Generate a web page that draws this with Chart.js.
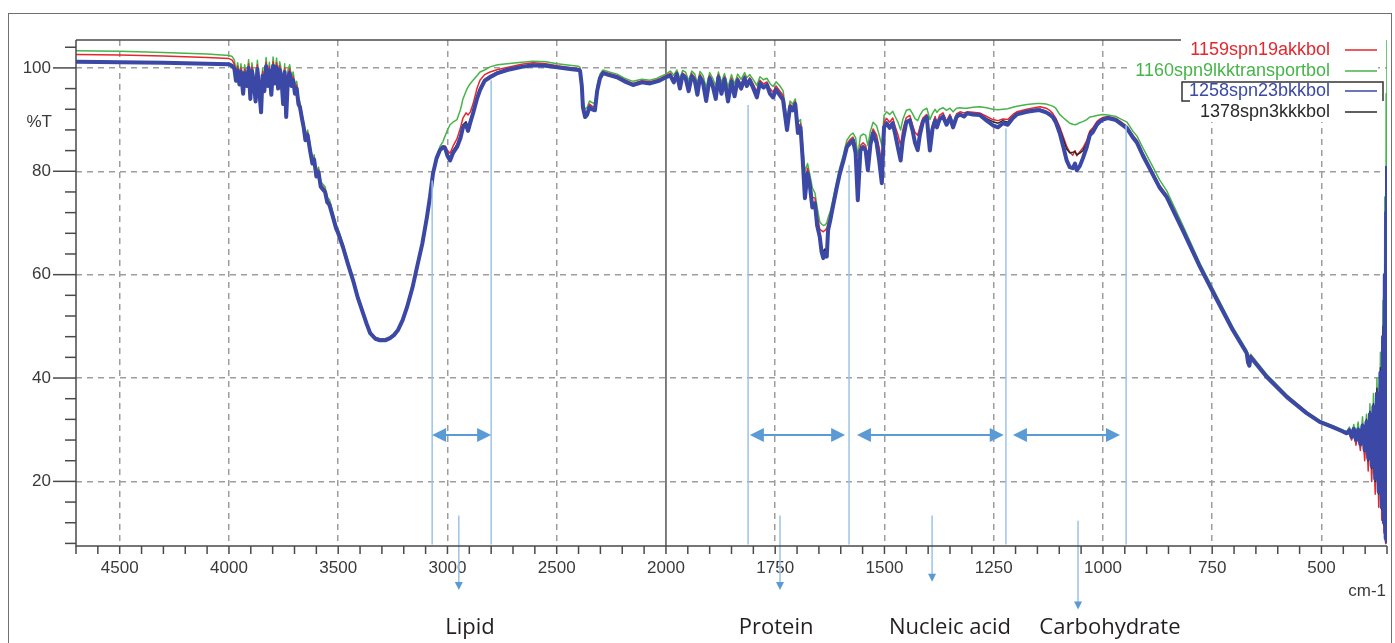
<!DOCTYPE html>
<html>
<head>
<meta charset="utf-8">
<title>FTIR spectra</title>
<script src="https://cdn.jsdelivr.net/npm/chart.js@4.4.0/dist/chart.umd.min.js"></script>
<style>
  html, body { margin: 0; padding: 0; background: #fff; }
  #wrap { position: relative; width: 1395px; height: 643px; }
</style>
</head>
<body>
<div id="wrap"><canvas id="spectrum" width="1395" height="643"></canvas></div>
<script>
// wavenumbers (cm-1), shared by all four spectra
const wavenumbers = [
  // flat + water vapour
  4700, 4500, 4300, 4100, 4000, 3985, 3975, 3968, 3960, 3952,
  3945, 3935, 3928, 3918, 3910, 3902, 3895, 3886, 3878, 3870,
  3862, 3853, 3846, 3838, 3830, 3822, 3815, 3806, 3798, 3790,
  3782, 3775, 3768, 3760, 3752, 3745, 3738, 3730, 3722, 3714,
  3706, 3698, 3690, 3682,
  // O-H band
  3675, 3665, 3658, 3650, 3640, 3629, 3618, 3610, 3600, 3590,
  3580, 3570, 3560, 3550, 3540, 3524, 3510, 3500, 3478, 3455,
  3432, 3410, 3386, 3370, 3354, 3330, 3309, 3285, 3263, 3245,
  3226, 3205, 3185, 3160, 3139, 3115, 3094, 3080, 3066, 3050,
  // lipid + CO2
  3034, 3020, 3011, 3000, 2988, 2975, 2956, 2940, 2929, 2915,
  2906, 2895, 2883, 2865, 2851, 2830, 2805, 2770, 2727, 2660,
  2608, 2550, 2498, 2440, 2400, 2393, 2385, 2380, 2370, 2361,
  2350, 2338, 2325, 2315, 2302, 2288, 2260, 2224, 2190, 2151,
  2110, 2073, 2040, 2027, 2000,
  // water vapour + amide
  1990, 1982, 1975, 1968, 1962, 1955, 1948, 1941, 1934, 1928,
  1922, 1915, 1908, 1900, 1893, 1886, 1880, 1873, 1866, 1858,
  1850, 1843, 1836, 1828, 1820, 1815, 1808, 1800, 1792, 1785,
  1777, 1769, 1762, 1755, 1748, 1740, 1732, 1723, 1716, 1710,
  1704, 1698, 1692, 1687, 1682, 1676, 1671, 1665, 1659, 1654,
  1648, 1644, 1640, 1636, 1632, 1629, 1624, 1618, 1610, 1602,
  // amide II + nucleic acid
  1594, 1586, 1578, 1572, 1566, 1561, 1555, 1549, 1543, 1538,
  1532, 1526, 1518, 1512, 1506, 1501, 1495, 1488, 1481, 1475,
  1469, 1463, 1458, 1450, 1442, 1436, 1430, 1424, 1419, 1412,
  1403, 1399, 1396, 1390, 1384, 1380, 1374, 1366, 1358, 1350,
  1343, 1335, 1327, 1318, 1311,
  // fingerprint
  1298, 1282, 1266, 1252, 1240, 1229, 1218, 1206, 1197, 1174,
  1151, 1144, 1130, 1122, 1115, 1108, 1099, 1090, 1083, 1076,
  1069, 1064, 1060, 1053, 1046, 1037, 1030, 1023, 1014, 1007,
  1000, 989, 970, 961, 945, 932, 922, 909, 893, 870,
  854, 817, 778, 739, 703, 671, 668, 665, 662, 625,
  579, 534, 504, 474, 455,
  // noisy end
  442, 436, 431, 426, 421, 416, 411, 406, 401, 397,
  393, 389, 385, 381, 377, 373, 369, 365, 362, 359,
  357, 355, 353, 352, 351, 350
];

// %T, 1159spn19akkbol (red)
const t1159 = [
  102.6, 102.5, 102.3, 102.0, 101.8, 101.5, 100.7, 98.4, 100.3, 97.6,
  100.0, 95.9, 99.8, 97.3, 100.8, 94.9, 100.2, 97.8, 94.4, 100.6,
  96.8, 92.3, 99.3, 96.3, 101.1, 97.3, 100.3, 95.7, 101.2, 97.8,
  101.0, 96.8, 100.4, 98.8, 93.9, 100.0, 91.4, 98.8, 99.8, 97.3,
  98.4, 95.8, 96.7, 93.7,
  92.9, 90.5, 89.0, 86.5, 87.5, 84.6, 82.0, 82.7, 79.5, 80.3,
  77.5, 77.0, 76.5, 74.5, 74.0, 71.6, 69.4, 68.4, 65.6, 62.3,
  59.1, 55.7, 52.7, 50.7, 48.9, 47.8, 47.5, 47.5, 47.9, 48.5,
  49.4, 51.2, 53.7, 57.5, 61.5, 66.0, 71.1, 75.0, 79.7, 82.7,
  84.4, 84.9, 84.9, 84.0, 83.5, 84.8, 86.3, 88.5, 90.3, 91.3,
  90.9, 91.5, 93.0, 96.0, 97.6, 98.7, 99.2, 99.7, 100.1, 100.7,
  101.0, 100.8, 100.4, 100.1, 99.9, 99.7, 97.0, 93.0, 91.2, 91.5,
  93.0, 92.6, 92.4, 96.0, 98.4, 99.3, 98.9, 98.5, 97.7, 97.0,
  97.5, 97.3, 97.7, 97.9, 98.5,
  99.0, 97.8, 99.2, 96.8, 99.0, 98.5, 96.3, 98.9, 98.1, 95.8,
  98.7, 97.7, 94.8, 98.5, 97.2, 95.2, 98.7, 96.0, 98.3, 94.8,
  98.0, 95.6, 98.1, 96.8, 98.5, 97.2, 98.1, 96.8, 95.4, 97.6,
  96.9, 97.3, 96.0, 95.3, 96.5, 95.6, 94.7, 89.0, 93.0, 92.4,
  93.5, 88.5, 89.2, 83.5, 77.5, 80.6, 78.5, 75.0, 74.8, 71.5,
  68.8, 68.5, 68.3, 68.6, 69.0, 70.0, 71.3, 73.8, 77.1, 80.2,
  82.6, 85.3, 86.2, 86.6, 85.0, 79.0, 85.0, 85.5, 85.0, 82.5,
  86.2, 88.2, 87.0, 84.5, 81.5, 89.5, 90.2, 89.5, 90.3, 88.5,
  87.0, 85.0, 88.0, 90.4, 90.8, 89.0, 87.5, 87.0, 88.5, 90.3,
  91.0, 88.0, 86.5, 89.0, 90.6, 89.3, 90.8, 91.3, 89.6, 91.0,
  89.2, 91.1, 91.5, 91.3, 91.5,
  91.4, 91.3, 90.6, 90.0, 89.8, 90.1, 90.0, 91.0, 91.5, 92.0,
  92.4, 92.5, 92.2, 91.8, 91.2, 90.3, 88.6, 86.5, 84.8, 83.7,
  83.1, 84.0, 83.0, 83.8, 84.5, 86.0, 87.8, 88.4, 89.6, 90.1,
  90.4, 90.6, 90.2, 89.7, 88.7, 87.0, 86.0, 83.6, 81.0, 77.2,
  75.4, 68.9, 61.9, 55.5, 49.6, 45.1, 44.0, 43.5, 44.4, 40.5,
  36.6, 33.4, 31.7, 30.7, 30.0,
  29.1, 29.4, 28.0, 29.8, 27.0, 29.6, 26.0, 30.0, 24.0, 30.5,
  22.0, 32.0, 20.0, 33.0, 17.5, 35.5, 15.0, 40.0, 12.5, 45.0,
  10.0, 55.0, 8.0, 66.0, 9.0, 68.0
];

// %T, 1160spn9lkktransportbol (green)
const t1160 = [
  103.3, 103.2, 103.0, 102.7, 102.4, 102.2, 101.5, 99.2, 101.0, 98.4,
  100.8, 96.8, 100.6, 98.0, 101.6, 95.8, 101.0, 98.6, 95.2, 101.5,
  97.6, 93.2, 100.0, 97.1, 102.0, 98.1, 101.1, 96.5, 102.1, 98.6,
  101.9, 97.6, 101.2, 99.6, 94.7, 100.8, 92.3, 99.6, 100.6, 98.1,
  99.2, 96.6, 97.4, 94.4,
  93.4, 91.0, 89.5, 87.0, 88.0, 85.1, 82.5, 83.2, 80.0, 80.8,
  78.0, 77.5, 77.0, 75.0, 74.5, 72.1, 69.8, 68.8, 66.0, 62.6,
  59.4, 55.9, 52.9, 50.8, 49.0, 47.9, 47.6, 47.6, 48.0, 48.5,
  49.4, 51.2, 53.8, 57.6, 61.6, 66.1, 71.3, 75.2, 79.9, 82.9,
  84.8, 85.8, 86.8, 88.0, 89.0, 89.5, 90.0, 92.0, 94.0, 95.5,
  96.3, 97.0, 97.6, 98.5, 99.2, 99.6, 100.2, 100.6, 100.8, 101.1,
  101.3, 101.2, 100.8, 100.5, 100.3, 100.1, 97.8, 93.8, 92.0, 92.3,
  93.6, 93.3, 93.1, 96.6, 98.8, 99.6, 99.2, 98.8, 98.0, 97.4,
  97.8, 97.6, 98.0, 98.3, 98.8,
  99.4, 98.6, 99.6, 97.8, 99.5, 99.2, 97.5, 99.4, 98.8, 97.0,
  99.3, 98.5, 96.2, 99.1, 98.0, 96.5, 99.2, 97.2, 98.9, 96.3,
  98.7, 96.9, 98.8, 97.8, 99.1, 98.1, 98.7, 97.7, 96.6, 98.3,
  97.7, 98.0, 97.0, 96.4, 97.3, 96.6, 95.6, 90.0, 93.6, 93.0,
  94.0, 89.5, 90.0, 84.8, 80.0, 81.5, 79.5, 76.8, 75.8, 73.0,
  70.2, 69.8, 69.5, 69.6, 70.0, 71.0, 72.2, 74.5, 77.8, 80.8,
  83.2, 86.0, 87.0, 87.4, 86.5, 83.0, 86.8, 87.2, 87.0, 85.0,
  87.8, 89.5, 88.8, 87.0, 85.0, 90.8, 91.5, 91.0, 91.6, 90.5,
  89.5, 88.0, 90.0, 91.8, 92.0, 91.2, 90.2, 89.8, 90.8, 91.8,
  92.2, 91.0, 90.0, 91.2, 92.0, 91.4, 92.0, 92.3, 91.8, 92.2,
  91.5, 92.2, 92.3, 92.2, 92.2,
  92.4, 92.5, 92.3, 92.0, 91.9, 92.0, 92.1, 92.4, 92.6, 92.9,
  93.1, 93.1, 93.0, 92.8, 92.6, 92.2, 91.0, 90.3, 89.8, 89.3,
  89.1, 89.0, 89.1, 89.4, 89.6, 90.0, 90.5, 90.6, 90.8, 90.9,
  91.0, 90.9, 90.6, 90.2, 89.5, 87.8, 86.8, 84.6, 82.0, 78.3,
  76.2, 69.5, 62.2, 55.8, 49.9, 45.4, 44.6, 44.2, 44.6, 40.7,
  36.7, 33.5, 31.8, 30.8, 30.1,
  29.6, 30.5, 29.0, 31.0, 28.5, 31.5, 27.5, 32.5, 25.5, 33.0,
  23.5, 35.0, 21.5, 37.0, 19.0, 40.0, 16.5, 45.0, 14.0, 55.0,
  10.5, 75.0, 8.0, 95.0, 9.0, 107.0
];

// %T, 1258spn23bkkbol (blue)
const t1258 = [
  101.2, 101.1, 101.0, 100.8, 100.7, 100.4, 99.8, 97.5, 99.5, 96.8,
  99.2, 95.0, 99.0, 96.5, 100.0, 94.0, 99.4, 97.0, 93.5, 99.8,
  96.0, 91.4, 98.5, 95.5, 100.3, 96.5, 99.5, 94.8, 100.4, 97.0,
  100.2, 96.0, 99.6, 98.0, 93.0, 99.2, 90.5, 98.0, 99.0, 96.5,
  97.6, 95.0, 96.0, 93.0,
  92.4, 90.0, 88.5, 86.0, 87.0, 84.1, 81.5, 82.2, 79.0, 79.8,
  77.0, 76.5, 76.0, 74.0, 73.5, 71.1, 69.0, 68.0, 65.3, 62.0,
  58.9, 55.5, 52.5, 50.5, 48.7, 47.6, 47.3, 47.3, 47.7, 48.3,
  49.3, 51.2, 53.7, 57.5, 61.5, 66.0, 71.1, 75.0, 79.6, 82.5,
  84.1, 84.7, 84.5, 83.0, 82.1, 83.5, 84.7, 86.5, 88.5, 89.0,
  87.8, 89.5, 91.2, 94.0, 95.7, 97.5, 98.2, 99.0, 99.6, 100.2,
  100.5, 100.4, 100.1, 99.8, 99.6, 99.4, 96.5, 92.4, 90.5, 90.9,
  92.4, 92.0, 91.8, 95.5, 98.0, 99.0, 98.6, 98.2, 97.4, 96.7,
  97.2, 97.0, 97.4, 97.6, 98.2,
  98.5, 97.2, 98.8, 96.0, 98.6, 98.0, 95.5, 98.4, 97.5, 94.8,
  98.2, 97.0, 93.6, 98.0, 96.5, 94.0, 98.2, 95.0, 97.8, 93.5,
  97.4, 94.5, 97.6, 96.0, 98.0, 96.5, 97.6, 96.0, 94.3, 97.0,
  96.2, 96.7, 95.0, 94.3, 95.8, 94.8, 93.8, 88.0, 92.5, 91.8,
  93.0, 87.4, 88.5, 82.1, 74.8, 79.6, 77.5, 73.0, 73.8, 69.5,
  67.3, 64.5, 63.2, 64.2, 63.5, 68.6, 70.5, 73.1, 76.5, 79.6,
  82.0, 84.7, 85.5, 86.0, 83.5, 74.4, 84.0, 84.7, 84.0, 80.2,
  85.2, 87.4, 85.5, 82.0, 77.7, 88.5, 89.3, 88.4, 89.3, 87.0,
  84.5, 82.1, 86.0, 89.5, 89.9, 88.0, 85.5, 84.1, 87.0, 89.6,
  90.5, 86.5, 84.0, 88.2, 89.8, 88.5, 90.0, 90.6, 89.0, 90.4,
  88.5, 90.5, 91.0, 90.6, 91.2,
  91.0, 90.9, 89.8, 88.9, 88.5, 89.3, 89.0, 90.3, 91.0, 91.5,
  91.8, 91.8, 91.4, 91.0, 90.5, 89.5, 87.4, 84.5, 82.1, 80.8,
  80.6, 81.5, 80.2, 81.0, 82.5, 84.7, 87.0, 87.6, 89.0, 89.6,
  90.0, 90.3, 89.9, 89.3, 88.3, 86.6, 85.5, 83.1, 80.5, 76.8,
  75.0, 68.5, 61.5, 55.1, 49.3, 44.8, 43.0, 42.4, 44.0, 40.2,
  36.3, 33.2, 31.5, 30.5, 29.8,
  29.3, 29.9, 28.6, 30.2, 28.0, 30.0, 27.2, 30.8, 26.0, 31.5,
  24.5, 33.0, 23.0, 34.5, 20.5, 37.0, 18.0, 41.0, 15.0, 48.0,
  12.0, 60.0, 9.0, 72.0, 8.5, 81.0
];

// %T, 1378spn3kkkbol (black)
const t1378 = [
  101.3, 101.2, 101.1, 100.9, 100.8, 100.5, 99.9, 97.6, 99.6, 96.9,
  99.3, 95.1, 99.1, 96.6, 100.1, 94.1, 99.5, 97.1, 93.6, 99.9,
  96.1, 91.5, 98.6, 95.6, 100.4, 96.6, 99.6, 94.9, 100.5, 97.1,
  100.3, 96.1, 99.7, 98.1, 93.1, 99.3, 90.6, 98.1, 99.1, 96.6,
  97.7, 95.1, 96.1, 93.1,
  92.5, 90.1, 88.6, 86.1, 87.1, 84.2, 81.6, 82.3, 79.1, 79.9,
  77.1, 76.6, 76.1, 74.1, 73.6, 71.2, 69.1, 68.1, 65.4, 62.1,
  59.0, 55.6, 52.6, 50.6, 48.8, 47.7, 47.4, 47.4, 47.8, 48.4,
  49.4, 51.3, 53.8, 57.6, 61.6, 66.1, 71.2, 75.1, 79.7, 82.6,
  84.2, 84.8, 84.7, 83.4, 82.6, 84.0, 85.2, 87.0, 89.0, 89.6,
  88.6, 90.0, 91.7, 94.5, 96.2, 97.8, 98.5, 99.2, 99.8, 100.3,
  100.6, 100.5, 100.2, 99.9, 99.7, 99.5, 96.6, 92.5, 90.6, 91.0,
  92.5, 92.1, 91.9, 95.6, 98.1, 99.1, 98.7, 98.3, 97.5, 96.8,
  97.3, 97.1, 97.5, 97.7, 98.3,
  98.6, 97.3, 98.9, 96.1, 98.7, 98.1, 95.6, 98.5, 97.6, 94.9,
  98.3, 97.1, 93.7, 98.1, 96.6, 94.1, 98.3, 95.1, 97.9, 93.6,
  97.5, 94.6, 97.7, 96.1, 98.1, 96.6, 97.7, 96.1, 94.4, 97.1,
  96.3, 96.8, 95.1, 94.4, 95.9, 94.9, 93.9, 88.1, 92.6, 91.9,
  93.1, 87.5, 88.6, 82.2, 75.0, 79.7, 77.6, 73.2, 73.9, 69.7,
  67.5, 65.2, 64.5, 65.0, 64.5, 68.8, 70.6, 73.2, 76.6, 79.7,
  82.1, 84.8, 85.6, 86.1, 83.6, 74.5, 84.1, 84.8, 84.1, 80.3,
  85.3, 87.5, 85.6, 82.1, 77.8, 88.6, 89.4, 88.5, 89.4, 87.1,
  84.6, 82.2, 86.1, 89.6, 90.0, 88.1, 85.6, 84.2, 87.1, 89.7,
  90.6, 86.6, 84.1, 88.3, 89.9, 88.6, 90.1, 90.7, 89.1, 90.5,
  88.6, 90.6, 91.1, 90.7, 91.3,
  91.1, 91.0, 90.2, 89.6, 89.3, 89.8, 89.5, 90.6, 91.2, 91.7,
  92.0, 92.0, 91.6, 91.2, 90.7, 90.0, 88.2, 86.0, 84.3, 83.6,
  83.7, 83.8, 83.2, 83.5, 84.0, 85.5, 87.5, 88.0, 89.3, 89.8,
  90.2, 90.4, 90.0, 89.4, 88.4, 86.7, 85.6, 83.2, 80.6, 76.9,
  75.1, 68.6, 61.6, 55.2, 49.4, 44.9, 43.5, 43.0, 44.2, 40.3,
  36.4, 33.3, 31.6, 30.6, 29.9,
  29.4, 29.8, 28.7, 30.4, 28.2, 30.3, 27.0, 31.0, 26.5, 32.0,
  24.0, 33.5, 22.5, 35.0, 20.0, 38.0, 17.5, 42.0, 14.5, 50.0,
  11.5, 62.0, 8.8, 74.0, 8.2, 78.0
];

const seriesNames = ['1159spn19akkbol', '1160spn9lkktransportbol', '1258spn23bkkbol', '1378spn3kkkbol'];
const xTickLabels = [4500, 4000, 3500, 3000, 2500, 2000, 1750, 1500, 1250, 1000, 750, 500];
const yTickLabels = [20, 40, 60, 80, 100];

// band annotations (cm-1 and %T)
const bandEdges = [3070, 2800, 1812, 1581, 1222, 947];
const bandEdgeTops = [78.2, 97.6, 92.8, 81.2, 88.3, 88.9];
const spanStarts = [3070, 1808, 1563, 1206];
const spanEnds = [2800, 1590, 1227, 961];
const spanLevel = 29.0;
const pointerAt = [2948, 1739, 1391, 1057];
const pointerTops = [13.4, 13.4, 13.4, 12.4];
const pointerEnds = [-1.0, -1.0, 0.6, -4.8];
const bandNames = ['Lipid', 'Protein', 'Nucleic acid', 'Carbohydrate'];
const bandNameAt = [2897, 1748, 1350, 984];

// the instrument halves the scale above 2000 cm-1
const toAxis = w => (w > 2000 ? 2000 + (w - 2000) / 2 : w);
const fromAxis = u => (u > 2000 ? 2000 + (u - 2000) * 2 : u);

const colors = {
  red: '#e5262d',
  green: '#47b44a',
  blue: '#3b48a6',
  black: '#2a2a2a'
};

const tickFont = '"Liberation Sans", Arial, sans-serif';

function toPoints(values) {
  return wavenumbers.map((w, i) => ({ x: toAxis(w), y: values[i] }));
}

function arrowHead(ctx, x, y, angle, len, half) {
  ctx.save();
  ctx.translate(x, y);
  ctx.rotate(angle);
  ctx.beginPath();
  ctx.moveTo(0, 0);
  ctx.lineTo(-len, -half);
  ctx.lineTo(-len, half);
  ctx.closePath();
  ctx.fill();
  ctx.restore();
}

const decorations = {
  id: 'decorations',
  beforeDraw(chart) {
    const { ctx } = chart;
    ctx.save();
    ctx.fillStyle = '#fff';
    ctx.fillRect(0, 0, chart.width, chart.height);
    ctx.strokeStyle = '#707070';
    ctx.lineWidth = 1;
    ctx.strokeRect(8.5, 13.5, 1383, 640);
    ctx.restore();
  },
  beforeDatasetsDraw(chart) {
    const { ctx, chartArea: a, scales: { x } } = chart;
    const px = x.getPixelForValue(2000);
    ctx.save();
    ctx.strokeStyle = '#555';
    ctx.lineWidth = 1.5;
    ctx.beginPath();
    ctx.moveTo(px, a.top);
    ctx.lineTo(px, a.bottom);
    ctx.stroke();
    ctx.restore();
  },
  afterDatasetsDraw(chart) {
    const { ctx, scales: { x, y } } = chart;
    const xp = w => x.getPixelForValue(toAxis(w));
    ctx.save();

    ctx.strokeStyle = '#9cc3e6';
    ctx.lineWidth = 1.5;
    bandEdges.forEach((w, i) => {
      ctx.beginPath();
      ctx.moveTo(xp(w), y.getPixelForValue(bandEdgeTops[i]));
      ctx.lineTo(xp(w), y.getPixelForValue(7.8));
      ctx.stroke();
    });

    ctx.strokeStyle = '#5b9bd5';
    ctx.fillStyle = '#5b9bd5';
    ctx.lineWidth = 2;
    const sy = y.getPixelForValue(spanLevel);
    spanStarts.forEach((w, i) => {
      const x1 = xp(w);
      const x2 = xp(spanEnds[i]);
      ctx.beginPath();
      ctx.moveTo(x1 + 8, sy);
      ctx.lineTo(x2 - 8, sy);
      ctx.stroke();
      arrowHead(ctx, x1, sy, Math.PI, 14, 7);
      arrowHead(ctx, x2, sy, 0, 14, 7);
    });

    ctx.lineWidth = 1.5;
    pointerAt.forEach((w, i) => {
      const px = xp(w);
      const top = y.getPixelForValue(pointerTops[i]);
      const bottom = y.getPixelForValue(pointerEnds[i]);
      ctx.strokeStyle = '#9cc3e6';
      ctx.beginPath();
      ctx.moveTo(px, top);
      ctx.lineTo(px, bottom - 5);
      ctx.stroke();
      arrowHead(ctx, px, bottom, Math.PI / 2, 8, 4);
    });

    ctx.fillStyle = '#231f20';
    ctx.font = '22px "Open Sans", "Noto Sans", sans-serif';
    ctx.textAlign = 'center';
    ctx.textBaseline = 'middle';
    bandNames.forEach((name, i) => ctx.fillText(name, xp(bandNameAt[i]), 628));
    ctx.restore();
  },
  afterDraw(chart) {
    const { ctx, chartArea: a, scales: { x, y } } = chart;
    ctx.save();
    ctx.strokeStyle = '#4a4a4a';
    ctx.lineWidth = 1.5;

    // axis lines
    ctx.beginPath();
    ctx.moveTo(a.left, a.top);
    ctx.lineTo(a.left, a.bottom);
    ctx.lineTo(a.right, a.bottom);
    ctx.stroke();
    ctx.beginPath();
    ctx.moveTo(a.left, a.top);
    ctx.lineTo(1181, a.top);
    ctx.stroke();

    // tick marks
    y.ticks.forEach(t => {
      const py = y.getPixelForValue(t.value);
      const len = t.value % 20 === 0 ? 23 : 11;
      ctx.beginPath();
      ctx.moveTo(a.left - len, py);
      ctx.lineTo(a.left, py);
      ctx.stroke();
    });
    x.ticks.forEach(t => {
      const px = x.getPixelForValue(t.value);
      ctx.beginPath();
      ctx.moveTo(px, a.bottom);
      ctx.lineTo(px, a.bottom + 8);
      ctx.stroke();
    });

    ctx.fillStyle = '#3a3a3a';
    ctx.font = '17px ' + tickFont;
    ctx.textAlign = 'right';
    ctx.textBaseline = 'middle';
    ctx.fillText('%T', 52, y.getPixelForValue(89.5));
    ctx.fillText('cm-1', 1386, 591);

    // legend: each row sits on its own white band
    const rows = [50, 71, 91, 112];
    const dsColors = [colors.red, colors.green, colors.blue, colors.black];
    ctx.font = '18px ' + tickFont;
    chart.data.datasets.forEach((ds, i) => {
      const w = ctx.measureText(ds.label).width;
      ctx.fillStyle = '#fff';
      ctx.fillRect(1330 - w - 4, rows[i] - 10, w + 52, 20);
    });
    chart.data.datasets.forEach((ds, i) => {
      ctx.fillStyle = dsColors[i];
      ctx.fillText(ds.label, 1330, rows[i]);
      ctx.strokeStyle = dsColors[i];
      ctx.lineWidth = 1.5;
      ctx.beginPath();
      ctx.moveTo(1345, rows[i]);
      ctx.lineTo(1377, rows[i]);
      ctx.stroke();
    });
    ctx.strokeStyle = '#333';
    ctx.lineWidth = 1.5;
    ctx.beginPath();
    ctx.moveTo(1190, 101);
    ctx.lineTo(1182, 101);
    ctx.lineTo(1182, 82);
    ctx.lineTo(1383, 82);
    ctx.lineTo(1383, 101);
    ctx.stroke();
    ctx.restore();
  }
};

new Chart(document.getElementById('spectrum'), {
  type: 'line',
  data: {
    datasets: [
      { label: seriesNames[0], data: toPoints(t1159), borderColor: colors.red, borderWidth: 1.5, order: 2 },
      { label: seriesNames[1], data: toPoints(t1160), borderColor: colors.green, borderWidth: 1.5, order: 3 },
      { label: seriesNames[2], data: toPoints(t1258), borderColor: colors.blue, borderWidth: 4, order: 0 },
      { label: seriesNames[3], data: toPoints(t1378), borderColor: colors.black, borderWidth: 1.5, order: 1 }
    ]
  },
  options: {
    responsive: false,
    animation: false,
    events: [],
    layout: { padding: { top: 40, right: 8, bottom: 57, left: 0 } },
    elements: {
      point: { radius: 0 },
      line: { tension: 0, borderJoinStyle: 'round', fill: false }
    },
    plugins: {
      legend: { display: false },
      tooltip: { enabled: false }
    },
    scales: {
      x: {
        type: 'linear',
        reverse: true,
        min: 350,
        max: 3350,
        afterFit: scale => { scale.height = 40; },
        afterBuildTicks: scale => {
          const ticks = [];
          for (let u = 350; u <= 3350; u += 50) ticks.push({ value: u });
          scale.ticks = ticks;
        },
        ticks: {
          autoSkip: false,
          maxRotation: 0,
          padding: 12,
          color: '#3a3a3a',
          font: { family: tickFont, size: 17 },
          callback: value => (xTickLabels.includes(fromAxis(value)) ? String(fromAxis(value)) : '')
        },
        grid: {
          drawTicks: false,
          lineWidth: 1.5,
          color: ctx => {
            const v = ctx.tick ? ctx.tick.value : 0;
            return v % 250 === 0 && v !== 2000 ? '#9d9d9d' : 'rgba(0,0,0,0)';
          }
        },
        border: { display: false, dash: [6, 5] }
      },
      y: {
        type: 'linear',
        min: 7.5,
        max: 105.4,
        afterFit: scale => { scale.width = 76; },
        afterBuildTicks: scale => {
          const ticks = [];
          for (let v = 8; v <= 104; v += 4) ticks.push({ value: v });
          scale.ticks = ticks;
        },
        ticks: {
          autoSkip: false,
          padding: 25,
          color: '#3a3a3a',
          font: { family: tickFont, size: 17 },
          callback: value => (yTickLabels.includes(value) ? String(value) : '')
        },
        grid: {
          drawTicks: false,
          lineWidth: 1.5,
          color: ctx => {
            const v = ctx.tick ? ctx.tick.value : 0;
            return yTickLabels.includes(v) ? '#9d9d9d' : 'rgba(0,0,0,0)';
          }
        },
        border: { display: false, dash: [6, 5] }
      }
    }
  },
  plugins: [decorations]
});
</script>
</body>
</html>
